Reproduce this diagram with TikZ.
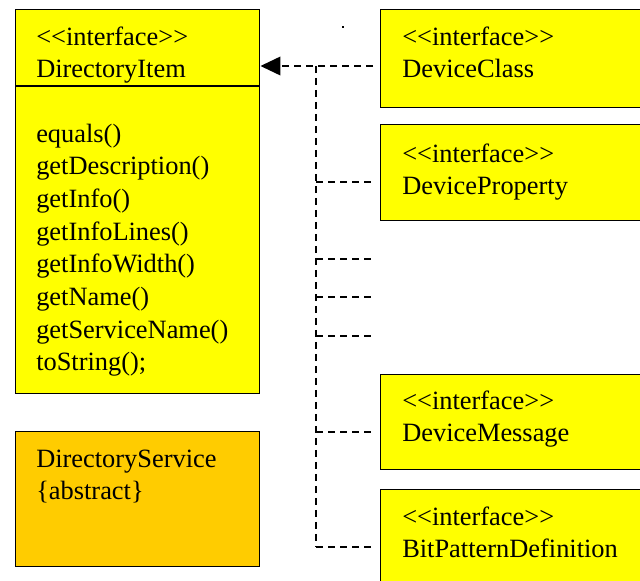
\documentclass[tikz,border=0pt]{standalone}
\usepackage{fontspec}
\setmainfont{Liberation Serif}
\usetikzlibrary{arrows.meta}
\definecolor{itemyellow}{RGB}{255,255,0}
\definecolor{serviceorange}{RGB}{255,204,0}
\newcommand{\umlstereo}[1]{\mbox{<}\mbox{<}#1\mbox{>}\mbox{>}}
\tikzset{
  umlbox/.style={rectangle,draw=black,line width=1.1pt,fill=itemyellow,anchor=north west,inner sep=0pt},
  boxtext/.style={anchor=north west,inner sep=0pt,align=left,font=\fontsize{19.8}{24.5}\selectfont},
  dashlink/.style={line width=1.2pt,dash pattern=on 5.6pt off 3.4pt}
}
\begin{document}
\begin{tikzpicture}[x=0.75pt,y=-0.75pt]
\useasboundingbox (0,0) rectangle (640,581);
% left column
\node[umlbox,minimum width=183pt,minimum height=288pt] (item) at (15,9) {};
\draw[line width=1.1pt] (item.west |- 0,86) -- (item.east |- 0,86);
\node[boxtext] (itemname) at (36,22) {\strut\umlstereo{interface}\\DirectoryItem};
\node[boxtext] (itemops) at (36,119) {\strut equals()\\getDescription()\\getInfo()\\getInfoLines()\\getInfoWidth()\\getName()\\getServiceName()\\toString();};
\node[umlbox,fill=serviceorange,minimum width=183pt,minimum height=101.25pt] (service) at (15,431) {};
\node[boxtext] (servicename) at (36,444) {\strut DirectoryService\\\{abstract\}};
% right column
\node[umlbox,minimum width=198.75pt,minimum height=73.5pt] (devclass) at (380,9) {};
\node[boxtext] (devclassname) at (402,22) {\strut\umlstereo{interface}\\DeviceClass};
\node[umlbox,minimum width=198.75pt,minimum height=72pt] (devprop) at (380,124) {};
\node[boxtext] (devpropname) at (402,139) {\strut\umlstereo{interface}\\DeviceProperty};
\node[umlbox,minimum width=198.75pt,minimum height=71.25pt] (devmsg) at (380,374) {};
\node[boxtext] (devmsgname) at (402,386) {\strut\umlstereo{interface}\\DeviceMessage};
\node[umlbox,minimum width=198.75pt,minimum height=75.75pt] (bitpat) at (380,489) {};
\node[boxtext] (bitpatname) at (402,502) {\strut\umlstereo{interface}\\BitPatternDefinition};
\fill (342,26) rectangle (344,28);
% realization links
\coordinate (jtop) at (316,66);
\coordinate (jprop) at (316,182);
\coordinate (ja) at (316,259);
\coordinate (jb) at (316,297);
\coordinate (jc) at (316,336);
\coordinate (jmsg) at (316,432);
\coordinate (jbit) at (316,547);
\coordinate (ea) at (373,259);
\coordinate (eb) at (373,297);
\coordinate (ec) at (373,336);
\draw[dashlink,-{Triangle[length=15pt,width=14pt]}] (jtop -| devclass.west) ++(-7,0) -- (jtop -| item.east);
\draw[dashlink] (jtop) -- (jbit);
\draw[dashlink,shorten >=5pt] (jprop) -- (jprop -| devprop.west);
\draw[dashlink] (ja) -- (ea);
\draw[dashlink] (jb) -- (eb);
\draw[dashlink] (jc) -- (ec);
\draw[dashlink,shorten >=5pt] (jmsg) -- (jmsg -| devmsg.west);
\draw[dashlink,shorten >=5pt] (jbit) -- (jbit -| bitpat.west);
\end{tikzpicture}
\end{document}
